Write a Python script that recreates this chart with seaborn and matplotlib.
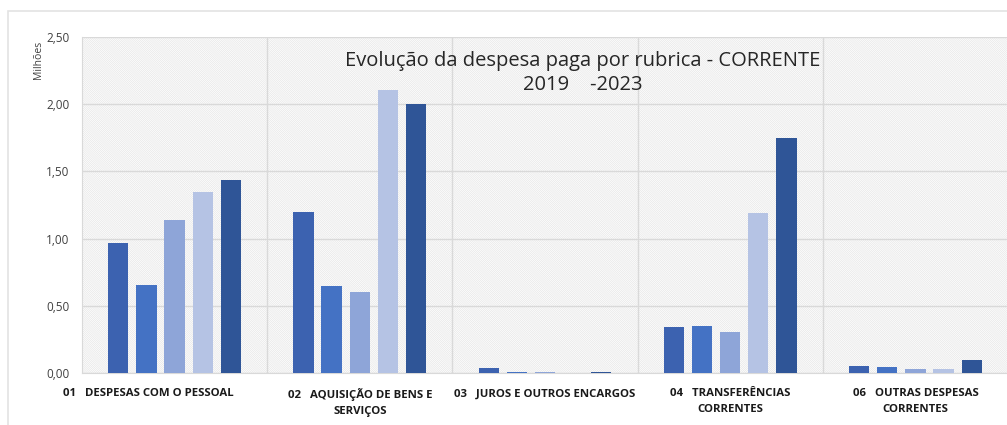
import numpy as np
import pandas as pd
import matplotlib
matplotlib.use("Agg")
import matplotlib.pyplot as plt
import matplotlib.transforms as mtransforms
import seaborn as sns
from matplotlib.patches import Rectangle

#### data (milhões) ####
rubricas = ["01   DESPESAS COM O PESSOAL",
            "02   AQUISIÇÃO DE BENS E\nSERVIÇOS",
            "03   JUROS E OUTROS ENCARGOS",
            "04   TRANSFERÊNCIAS\nCORRENTES",
            "06   OUTRAS DESPESAS\nCORRENTES"]
anos = ["2019", "2020", "2021", "2022", "2023"]
v2019 = [0.967, 1.198, 0.037, 0.342, 0.053]
v2020 = [0.655, 0.647, 0.005, 0.350, 0.047]
v2021 = [1.138, 0.603, 0.005, 0.305, 0.032]
v2022 = [1.347, 2.106, 0.003, 1.190, 0.032]
v2023 = [1.436, 2.000, 0.006, 1.748, 0.094]
cores = ["#3c62b0", "#4472c4", "#8ea5d8", "#b5c3e4", "#2f5597"]

df = pd.DataFrame({"rubrica": rubricas * 5,
                   "ano": np.repeat(anos, len(rubricas)),
                   "valor": v2019 + v2020 + v2021 + v2022 + v2023})

#### figure settings ####
sns.set_style("white")
plt.rcParams["font.family"] = ["Open Sans", "DejaVu Sans"]
plt.rcParams["hatch.linewidth"] = 0.5
plt.rcParams["hatch.color"] = "#e6e6e6"

fig = plt.figure(figsize=(10.07, 4.25), dpi=100)
# light frame of the chart area
fig.patches.append(Rectangle((0.008, -0.05), 1.1, 1.025, transform=fig.transFigure,
                             fill=False, edgecolor="#e3e3e3", linewidth=1.2))
ax = fig.add_axes([0.0814, 0.1224, 0.9196, 0.7906])

# hatched plot background
ax.add_patch(Rectangle((0, 0), 1, 1, transform=ax.transAxes, facecolor="white",
                       edgecolor="#e6e6e6", hatch="\\" * 16, linewidth=0, zorder=0))

sns.barplot(data=df, x="rubrica", y="valor", hue="ano", hue_order=anos,
            palette=cores, width=0.76, gap=0.28, saturation=1,
            linewidth=0, edgecolor="none",
            legend=False, ax=ax, zorder=3)

ax.set_ylim(0, 2.5)
ax.set_xlim(-0.5, 4.5)
ax.set_yticks(np.arange(0, 2.51, 0.5))
ax.set_yticklabels([f"{t:.2f}".replace(".", ",") for t in np.arange(0, 2.51, 0.5)],
                   fontsize=8.5, color="#404040")
ax.yaxis.grid(True, color="#d9d9d9", linewidth=1, zorder=1)
for xv in [0.5, 1.5, 2.5, 3.5]:
    ax.axvline(xv, color="#d9d9d9", linewidth=1, zorder=1)
for s in ["top", "right"]:
    ax.spines[s].set_visible(False)
for s in ["left", "bottom"]:
    ax.spines[s].set_color("#d9d9d9")
ax.tick_params(axis="y", length=0, pad=9)
ax.tick_params(axis="x", length=0, pad=11)
ax.set_xticks(range(len(rubricas)))
ax.set_xticklabels(rubricas, fontsize=8.2, fontweight="bold", color="#1a1a1a",
                   linespacing=1.55)
# first label overflows to the left like in the original
lbl = ax.get_xticklabels()[0]
lbl.set_transform(lbl.get_transform() + mtransforms.ScaledTranslation(-0.26, 0, fig.dpi_scale_trans))
ax.set_xlabel("")
ax.set_ylabel("")

fig.text(0.038, 0.86, "Milhões", rotation=90, fontsize=7.5, color="#404040",
         ha="center", va="center")
fig.text(0.579, 0.828, "Evolução da despesa paga por rubrica - CORRENTE\n2019    -2023",
         fontsize=14.5, color="#262626", ha="center", va="center", linespacing=1.25)

fig.savefig("out.png", dpi=100)
